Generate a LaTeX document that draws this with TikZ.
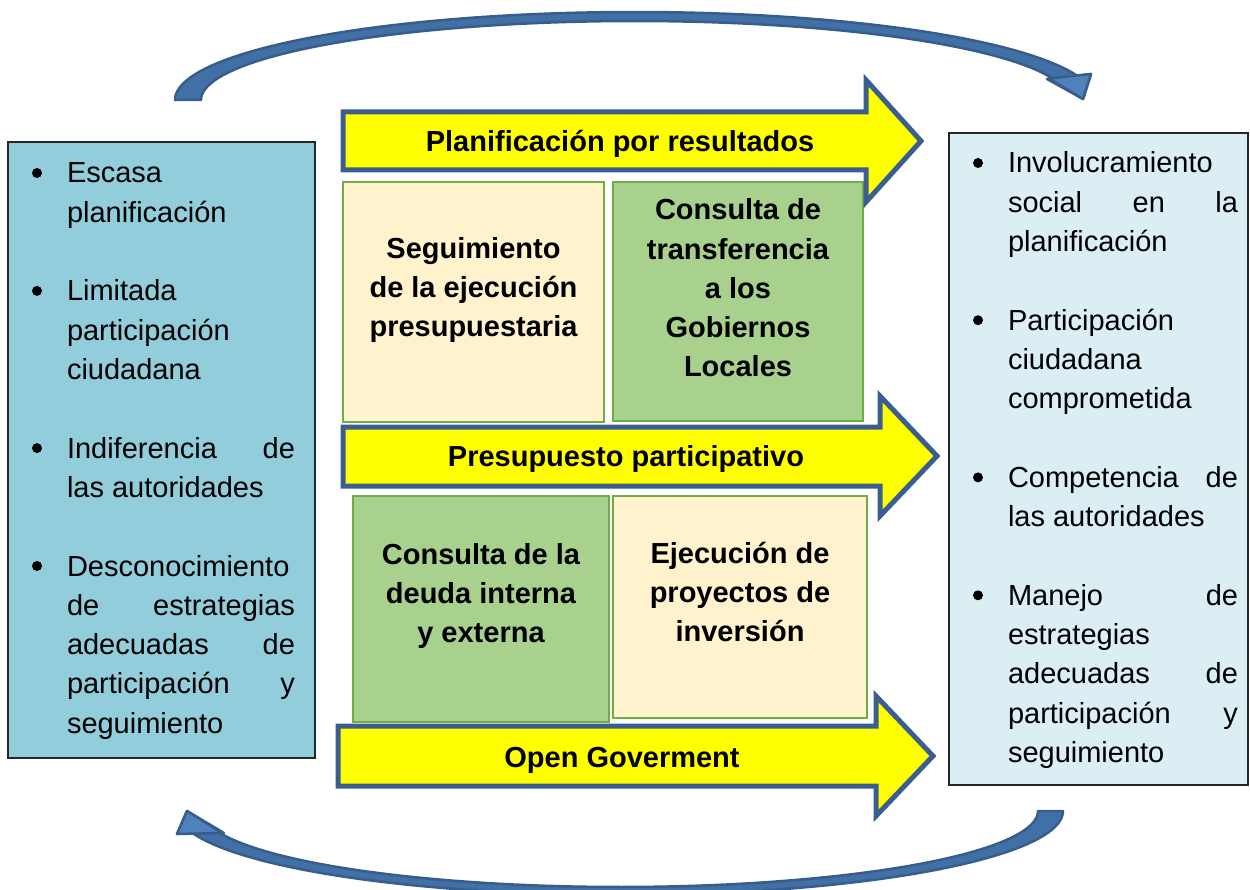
\documentclass[tikz,border=0pt]{standalone}
\usepackage{fontspec}
\setmainfont{Liberation Sans}
\definecolor{arrowblue}{HTML}{3A5F8E}
\definecolor{bandfill}{HTML}{4170A6}
\definecolor{headfill}{HTML}{4F81BD}
\definecolor{bandedge}{HTML}{385D8A}
\definecolor{yel}{HTML}{FFFF00}
\definecolor{beige}{HTML}{FFF2CC}
\definecolor{lgreen}{HTML}{A9D18E}
\definecolor{gborder}{HTML}{70AD47}
\definecolor{lblue}{HTML}{92CDDC}
\definecolor{plblue}{HTML}{DAEEF3}
\definecolor{boxedge}{HTML}{262626}
\newcommand\jleft[1]{\makebox[228pt][s]{#1}}
\newcommand\jright[1]{\makebox[230pt][s]{#1}}
\begin{document}
\begin{tikzpicture}[x=1pt,y=-1pt,
  every node/.style={inner sep=0pt, outer sep=0pt},
  txt/.style={font=\fontsize{29}{39.3}\selectfont},
  btxt/.style={font=\fontsize{29}{39.3}\selectfont\bfseries, align=center},
  bigarrow/.style={draw=arrowblue, line width=5pt, fill=yel, line join=miter},
  cell/.style={draw=gborder, line width=2.5pt, anchor=north west},
  sidebox/.style={draw=boxedge, line width=1.2pt, anchor=north west},
  curvearrow/.style={fill=bandfill, draw=bandedge, line width=2.5pt, line join=round},
  headtri/.style={fill=headfill, draw=bandedge, line width=2.5pt, line join=round},
  bullet/.style={circle, fill=black, minimum size=10pt}
]
\useasboundingbox (0,0) rectangle (1250,890);

% curved arrows
\filldraw[curvearrow]
  plot[domain=180:344, samples=80] ({635+460*cos(\x)},{100+88*sin(\x)})
  -- (1091,74) -- (1083,99) -- (1047,79)
  -- plot[domain=344:180, samples=80] ({635+434*cos(\x)},{100+79*sin(\x)})
  -- cycle;
\filldraw[headtri] (1091,74) -- (1083,99) -- (1049,78.5) -- cycle;
\filldraw[curvearrow]
  plot[domain=0:165, samples=80] ({620+443*cos(\x)},{811+84*sin(\x)})
  -- (177,834) -- (187,811) -- (224,833)
  -- plot[domain=165:0, samples=80] ({620+418*cos(\x)},{811+76*sin(\x)})
  -- cycle;
\filldraw[headtri] (177,834) -- (187,811) -- (222,833) -- cycle;

% side boxes
\node[sidebox, fill=lblue, minimum width=307pt, minimum height=616pt] (left) at (8,142) {};
\node[sidebox, fill=plblue, minimum width=299pt, minimum height=652pt] (right) at (949,133) {};

\foreach \n/\t [count=\i] in {0/Escasa, 1/planificación, 3/Limitada, 4/participación,
   5/ciudadana, 7/\jleft{Indiferencia de}, 8/las autoridades, 10/Desconocimiento,
   11/\jleft{de estrategias}, 12/\jleft{adecuadas de}, 13/\jleft{participación y}, 14/seguimiento}
  \node[txt, anchor=base west] (L\i) at (67,{183+39.3*\n}) {\t};
\foreach \n [count=\i] in {0,3,7,10}
  \node[bullet] (LB\i) at (37,{173+39.3*\n}) {};

\foreach \n/\t [count=\i] in {0/Involucramiento, 1/\jright{social en la}, 2/planificación,
   4/Participación, 5/ciudadana, 6/comprometida, 8/\jright{Competencia de}, 9/las autoridades,
   11/\jright{Manejo de}, 12/estrategias, 13/\jright{adecuadas de}, 14/\jright{participación y}, 15/seguimiento}
  \node[txt, anchor=base west] (R\i) at (1008,{173+39.3*\n}) {\t};
\foreach \n [count=\i] in {0,4,8,11}
  \node[bullet] (RB\i) at (978,{163+39.3*\n}) {};

% cells
\node[cell, fill=beige, minimum width=261pt, minimum height=240pt] (c1) at (343,182) {};
\node[cell, fill=lgreen, minimum width=250pt, minimum height=239pt] (c2) at (613,182) {};
\node[cell, fill=lgreen, minimum width=256pt, minimum height=226pt] (c3) at (353,496) {};
\node[cell, fill=beige, minimum width=254pt, minimum height=222pt] (c4) at (613,496) {};

\node[btxt] (t1) at (473.5,290) {Seguimiento\\de la ejecución\\presupuestaria};
\node[btxt] (t2) at (738,288) {Consulta de\\transferencia\\a los\\Gobiernos\\Locales};
\node[btxt] (t3) at (481,596) {Consulta de la\\deuda interna\\y externa};
\node[btxt] (t4) at (740,592) {Ejecución de\\proyectos de\\inversión};

% big arrows
\draw[bigarrow] (343,112) -- (866,112) -- (866,80) -- (921,141) -- (866,202) -- (866,170) -- (343,170) -- cycle;
\draw[bigarrow] (343,427) -- (880,427) -- (880,396) -- (937,456) -- (880,516) -- (880,486) -- (343,486) -- cycle;
\draw[bigarrow] (338,726) -- (876,726) -- (876,696) -- (933,756) -- (876,816) -- (876,786) -- (338,786) -- cycle;

\node[btxt] (a1) at (620,144) {Planificación por resultados};
\node[btxt] (a2) at (626,459) {Presupuesto participativo};
\node[btxt] (a3) at (622,760) {Open Goverment};
\end{tikzpicture}
\end{document}
